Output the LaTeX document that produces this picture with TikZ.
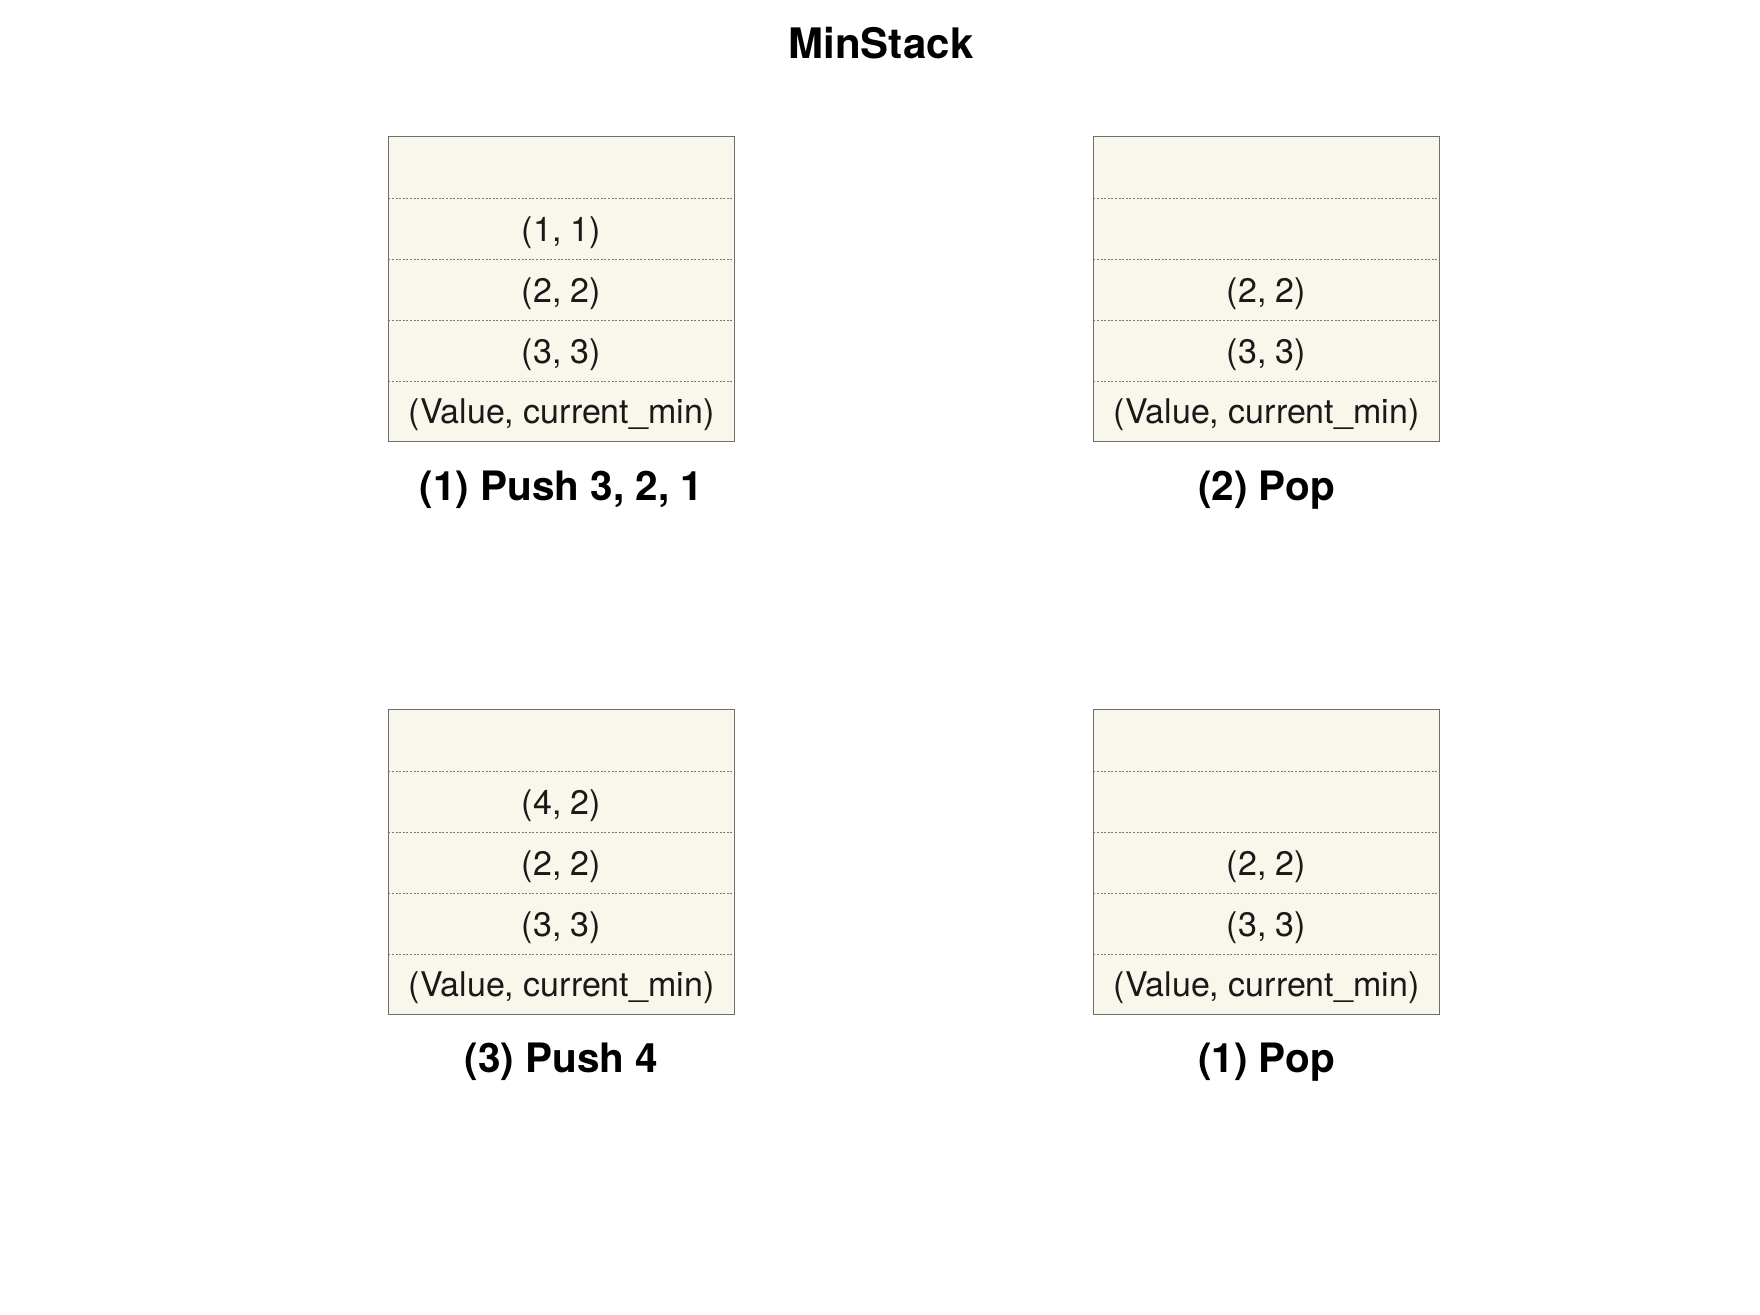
\documentclass[tikz,border=0pt]{standalone}
\usepackage{fontspec}
\setmainfont{TeX Gyre Heros}
\definecolor{cellfill}{RGB}{249,246,235}
\definecolor{edgec}{RGB}{110,110,110}
\definecolor{sepc}{RGB}{120,120,120}
\definecolor{textc}{RGB}{25,25,25}
\begin{document}
\begin{tikzpicture}[x={(1pt,0pt)},y={(0pt,-1pt)},
  cell/.style={rectangle, fill=cellfill, minimum width=346pt, minimum height=61pt, inner sep=0pt,
    text height=30pt, text depth=4pt,
    font=\fontsize{34}{40}\selectfont, text=textc},
  frame/.style={draw=edgec, line width=1.2pt},
  sep/.style={draw=sepc, line width=0.9pt, dash pattern=on 2pt off 1.6pt},
  caption/.style={font=\fontsize{40.5}{48}\selectfont\bfseries, text=black},
  title/.style={font=\fontsize{42}{50}\selectfont\bfseries, text=black}]
\useasboundingbox (0,0) rectangle (1760,1314);
\node[title] (title) at (881,43) {MinStack};
% stack A (1) Push 3, 2, 1
\node[cell] (a1) at (561.5,167.5) {};
\node[cell] (a2) at (561.5,228.5) {(1, 1)};
\node[cell] (a3) at (561.5,289.5) {(2, 2)};
\node[cell] (a4) at (561.5,350.5) {(3, 3)};
\node[cell] (a5) at (561.5,410.5) {(Value, current\_min)};
\node[caption] (la) at (561.5,490) {(1) Push 3, 2, 1};
% stack B (2) Pop
\node[cell] (b1) at (1266.5,167.5) {};
\node[cell] (b2) at (1266.5,228.5) {};
\node[cell] (b3) at (1266.5,289.5) {(2, 2)};
\node[cell] (b4) at (1266.5,350.5) {(3, 3)};
\node[cell] (b5) at (1266.5,410.5) {(Value, current\_min)};
\node[caption] (lb) at (1266.5,490) {(2) Pop};
% stack C (3) Push 4
\node[cell] (c1) at (561.5,740.5) {};
\node[cell] (c2) at (561.5,801.5) {(4, 2)};
\node[cell] (c3) at (561.5,862.5) {(2, 2)};
\node[cell] (c4) at (561.5,923.5) {(3, 3)};
\node[cell] (c5) at (561.5,983.5) {(Value, current\_min)};
\node[caption] (lc) at (561.5,1062) {(3) Push 4};
% stack D (1) Pop
\node[cell] (d1) at (1266.5,740.5) {};
\node[cell] (d2) at (1266.5,801.5) {};
\node[cell] (d3) at (1266.5,862.5) {(2, 2)};
\node[cell] (d4) at (1266.5,923.5) {(3, 3)};
\node[cell] (d5) at (1266.5,983.5) {(Value, current\_min)};
\node[caption] (ld) at (1266.5,1062) {(1) Pop};
% separators and frames
\foreach \s in {a,b,c,d}{
  \foreach \i in {1,2,3,4}{
    \draw[sep] (\s\i.south west) -- (\s\i.south east);
  }
  \draw[frame] (\s1.north west) rectangle (\s5.south east);
}
\end{tikzpicture}
\end{document}
